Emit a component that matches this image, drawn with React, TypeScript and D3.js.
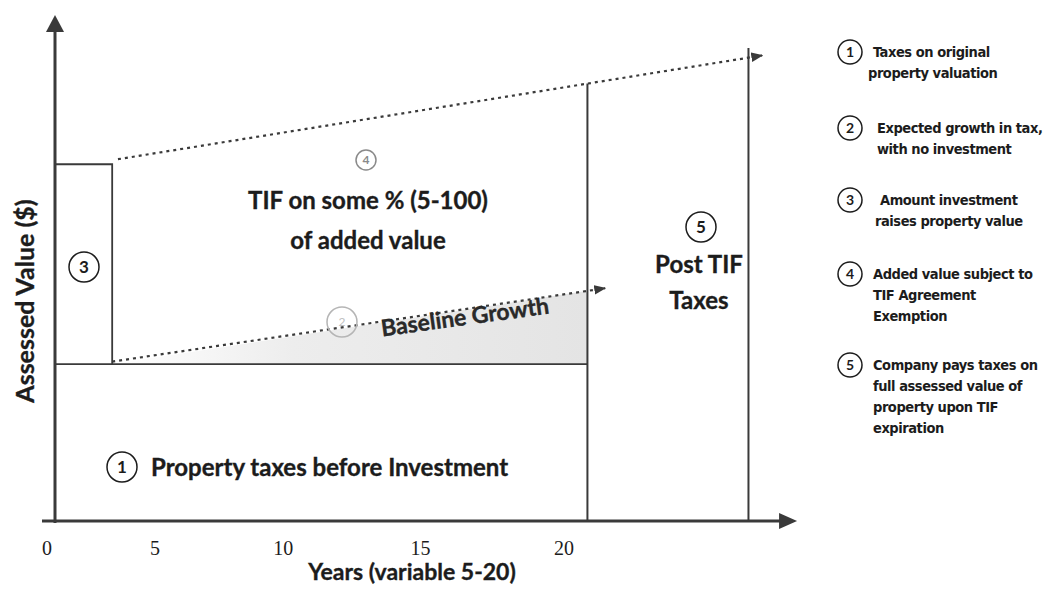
import React from 'react';
import * as d3 from 'd3';

const W = 1064;
const H = 589;

// x axis tick labels (years)
const yearTicks = [0, 5, 10, 15, 20];
// key years on the timeline
const axisStartYear = -0.33;
const yAxisYear = 0.5;
const investEndYear = 3.2;
const tifEndYear = 20.8;
const postTifEndYear = 26.2;
const axisEndYear = 27.8;

// assessed value levels (arbitrary units, 0-100)
const baseValue = 31;
const investedValue = 70.5;
const postTifTopValue = 93.5;
const axisTopValue = 100;

// dotted growth lines: [start, end]
const baselineGrowthYears = [3.2, 21.4];
const baselineGrowthValues = [31.5, 46];
const investedGrowthYears = [3.45, 26.65];
const investedGrowthValues = [71.5, 92];

const legendNums = ['1', '2', '3', '4', '5'];
const legendLines = [
    ['Taxes on original', 'property valuation'],
    ['Expected growth in tax,', 'with no investment'],
    ['Amount investment', 'raises property value'],
    ['Added value subject to', 'TIF Agreement', 'Exemption'],
    ['Company pays taxes on', 'full assessed value of', 'property upon TIF', 'expiration'],
];
const legendTops = [52, 128, 200, 274, 365];
const legendTextX = [873, 877, 880, 873, 873];
const legendIndent = [5, 0, 5, 0, 0];

const SANS = 'Lato, "Open Sans", sans-serif';
const LEGEND_FONT = '"DejaVu Sans Condensed", "DejaVu Sans", sans-serif';
const INK = '#1c1c1c';
const LINE = '#3a3a3a';

const x = d3.scalePow().exponent(1.13).domain([0, 20]).range([47, 564]);
const y = d3.scaleLinear().domain([0, 100]).range([521, 15]);

const pt = (yr: number, v: number): [number, number] => [x(yr), y(v)];

// y in px of a straight segment at a given px x
const yAt = (a: [number, number], b: [number, number], px: number) =>
    a[1] + ((b[1] - a[1]) * (px - a[0])) / (b[0] - a[0]);

const boldText = { fontFamily: SANS, fontWeight: 700, fill: INK, stroke: INK, strokeWidth: 0.35 };

const Circled: React.FC<{ cx: number; cy: number; r: number; label: string; color?: string; size?: number }> = ({
    cx, cy, r, label, color = INK, size = 16,
}) => (
    <g>
        <circle cx={cx} cy={cy} r={r} fill="white" stroke={color} strokeWidth={1.5} />
        <text x={cx} y={cy} dy="0.36em" textAnchor="middle" fontFamily={SANS} fontWeight={700}
            fontSize={size} fill={color}>{label}</text>
    </g>
);

const App: React.FC = () => {
    const line = d3.line<[number, number]>();

    const x0 = x(axisStartYear);
    const xAxisEnd = x(axisEndYear);
    const yAxisX = x(yAxisYear);
    const yBase = y(0);
    const yTop = y(axisTopValue);

    const bgA = pt(baselineGrowthYears[0], baselineGrowthValues[0]);
    const bgB = pt(baselineGrowthYears[1], baselineGrowthValues[1]);
    const igA = pt(investedGrowthYears[0], investedGrowthValues[0]);
    const igB = pt(investedGrowthYears[1], investedGrowthValues[1]);

    const xInvest = x(investEndYear);
    const xTif = x(tifEndYear);
    const xPost = x(postTifEndYear);
    const yBaseVal = y(baseValue);
    const yInvested = y(investedValue);

    const tifTopY = yAt(igA, igB, xTif);
    const shade: [number, number][] = [
        [xInvest, yBaseVal],
        [xTif, yAt(bgA, bgB, xTif)],
        [xTif, yBaseVal],
    ];
    const growthAngle = (Math.atan2(bgB[1] - bgA[1], bgB[0] - bgA[0]) * 180) / Math.PI;

    return (
        <svg width={W} height={H} style={{ position: 'absolute', left: 0, top: 0, background: 'white' }}>
            <defs>
                <marker id="dotArrow" viewBox="0 0 10 10" refX="9" refY="5" markerWidth="12" markerHeight="12"
                    markerUnits="userSpaceOnUse" orient="auto">
                    <path d="M0,1 L10,5 L0,9 Z" fill={LINE} />
                </marker>
                <linearGradient id="shadeGrad" x1={xInvest} x2={xTif} y1="0" y2="0" gradientUnits="userSpaceOnUse">
                    <stop offset="0" stopColor="#ffffff" />
                    <stop offset="0.38" stopColor="#ededed" />
                    <stop offset="1" stopColor="#e4e4e4" />
                </linearGradient>
            </defs>

            {/* baseline growth shading */}
            <path d={line(shade) + 'Z'} fill="url(#shadeGrad)" />

            {/* axes */}
            <line x1={x0} x2={xAxisEnd - 12} y1={yBase} y2={yBase} stroke={LINE} strokeWidth={3} />
            <path d={`M${xAxisEnd},${yBase} L${xAxisEnd - 18},${yBase - 8} L${xAxisEnd - 18},${yBase + 8} Z`} fill={LINE} />
            <line x1={yAxisX} x2={yAxisX} y1={yBase + 2} y2={yTop + 12} stroke={LINE} strokeWidth={3} />
            <path d={`M${yAxisX},${yTop} L${yAxisX - 9},${yTop + 17} L${yAxisX + 9},${yTop + 17} Z`} fill={LINE} />

            {/* original valuation line */}
            <line x1={yAxisX} x2={xTif} y1={yBaseVal} y2={yBaseVal} stroke={LINE} strokeWidth={1.8} />

            {/* investment box (3) */}
            <path d={line([[yAxisX, yInvested], [xInvest, yInvested], [xInvest, yBaseVal]])!} fill="none"
                stroke={LINE} strokeWidth={1.8} />

            {/* TIF end and post TIF verticals */}
            <line x1={xTif} x2={xTif} y1={yBase} y2={tifTopY} stroke={LINE} strokeWidth={2} />
            <line x1={xPost} x2={xPost} y1={yBase} y2={y(postTifTopValue)} stroke={LINE} strokeWidth={2} />

            {/* dotted growth lines */}
            <path d={line([bgA, bgB])!} stroke={LINE} strokeWidth={2.2} strokeDasharray="3 4"
                fill="none" markerEnd="url(#dotArrow)" />
            <path d={line([igA, igB])!} stroke={LINE} strokeWidth={2.2} strokeDasharray="3 4"
                fill="none" markerEnd="url(#dotArrow)" />

            {/* tick labels */}
            {yearTicks.map((t) => (
                <text key={t} x={x(t)} y={555} textAnchor="middle" fontFamily='"Liberation Serif", serif'
                    fontSize={20} fill={INK}>{t}</text>
            ))}

            {/* axis titles */}
            <text x={412} y={580} textAnchor="middle" fontSize={23} {...boldText}>Years (variable 5-20)</text>
            <text transform="translate(34,301) rotate(-90)" textAnchor="middle" fontSize={25}
                {...boldText}>Assessed Value ($)</text>

            {/* region labels */}
            <Circled cx={84} cy={267} r={15} label="3" size={17} />
            <Circled cx={366} cy={160} r={10} label="4" size={12} color="#8a8a8a" />
            <text x={368} y={209} textAnchor="middle" fontSize={24} {...boldText}>TIF on some % (5-100)</text>
            <text x={368} y={249} textAnchor="middle" fontSize={24} {...boldText}>of added value</text>

            <circle cx={342} cy={322} r={15} fill="none" stroke="#b5b5b5" strokeWidth={1.5} />
            <text x={342} y={322} dy="0.36em" textAnchor="middle" fontFamily={SANS} fontSize={12}
                fill="#c0c0c0">2</text>
            <text transform={`translate(466,325) rotate(${growthAngle + 0.6})`} textAnchor="middle"
                fontSize={23} {...boldText} fill="#2a2a2a">Baseline Growth</text>

            <Circled cx={701} cy={227} r={15} label="5" size={17} />
            <text x={699} y={273} textAnchor="middle" fontSize={24} {...boldText}>Post TIF</text>
            <text x={699} y={309} textAnchor="middle" fontSize={24} {...boldText}>Taxes</text>

            <Circled cx={122} cy={467} r={15} label="1" size={17} />
            <text x={151} y={476} fontSize={24} {...boldText}>Property taxes before Investment</text>

            {/* legend */}
            {legendNums.map((n, i) => (
                <g key={n}>
                    <Circled cx={850} cy={legendTops[i]} r={12} label={n} size={14} />
                    {legendLines[i].map((s, j) => (
                        <text key={j} x={legendTextX[i] - (j === 0 ? 0 : legendIndent[i])}
                            y={legendTops[i] + 5 + j * 21} fontFamily={LEGEND_FONT} fontWeight={700}
                            fontSize={14.5} letterSpacing={-0.45} fill={INK}>{s}</text>
                    ))}
                </g>
            ))}
        </svg>
    );
};

export default App;
